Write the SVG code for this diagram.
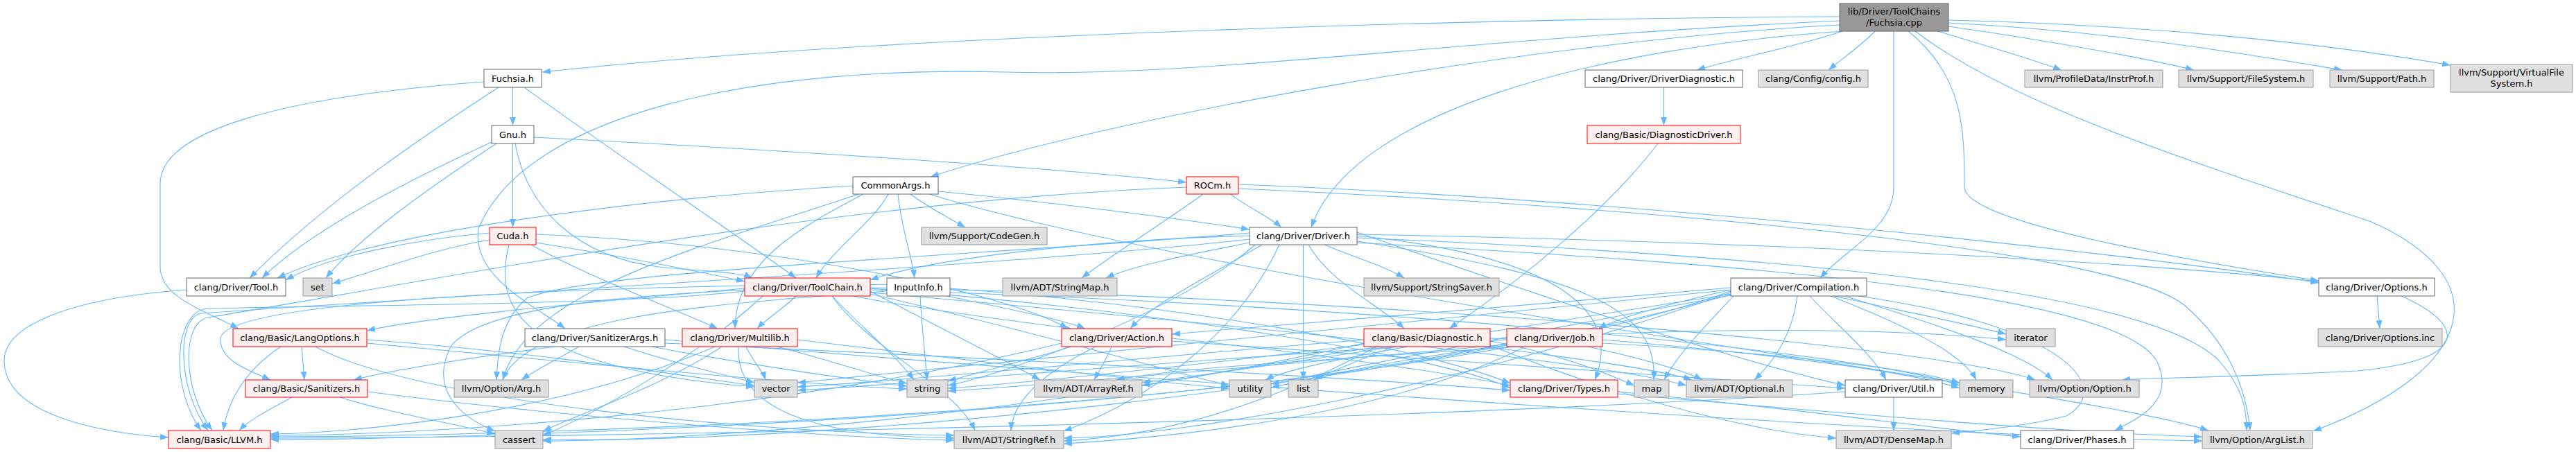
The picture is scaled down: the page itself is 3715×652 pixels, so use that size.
<svg xmlns="http://www.w3.org/2000/svg" width="3715" height="652" viewBox="0 0 3715 652">
<style>
.e{fill:none;stroke:#63b8ff;stroke-width:1.1;marker-end:url(#ah)}
.w{fill:#ffffff;stroke:#666666;stroke-width:1}
.r{fill:#fff0f0;stroke:#ff0000;stroke-width:1}
.g{fill:#e0e0e0;stroke:#999999;stroke-width:1}
.m{fill:#999999;stroke:#666666;stroke-width:1}
text{font-family:"DejaVu Sans","Liberation Sans",sans-serif;font-size:13px;text-anchor:middle;fill:#000000}
</style>
<defs>
<marker id="ah" viewBox="0 0 12 9" refX="12" refY="4.5" markerWidth="12" markerHeight="9" markerUnits="userSpaceOnUse" orient="auto"><path d="M0,0 L12,4.5 L0,9 z" fill="#63b8ff"/></marker>
</defs>
<rect width="3715" height="652" fill="#ffffff"/>
<g id="edges">
<path class="e" d="M2653,24 C2200,26 1300,48 782,104"/>
<path class="e" d="M2653,36 C2200,60 1600,170 1342,255"/>
<path class="e" d="M2653,30 C2100,55 1750,112 1450,104 C1100,95 760,160 690,330 C680,400 770,440 815,474"/>
<path class="e" d="M2658,45 C2300,70 1950,160 1891,328"/>
<path class="e" d="M2657,45 C2600,65 2500,85 2447,101"/>
<path class="e" d="M2704,45 C2685,65 2660,82 2637,101"/>
<path class="e" d="M2731,45 L2731,270 C2731,330 2660,360 2625,401"/>
<path class="e" d="M2795,45 C2860,65 2930,85 2973,101"/>
<path class="e" d="M2810,38 C2950,58 3100,85 3164,101"/>
<path class="e" d="M2810,33 C3050,45 3250,80 3378,101"/>
<path class="e" d="M2810,29 C3100,36 3350,62 3534,94"/>
<path class="e" d="M2752,45 C2833,110 2833,190 2833,270 C2833,320 3150,375 3344,405"/>
<path class="e" d="M2762,45 C2900,150 3150,230 3420,320 C3600,400 3580,530 3336,622"/>
<path class="e" d="M739.5,126 L739.5,181"/>
<path class="e" d="M698,118 C400,140 231,190 231,265 L231,385 C231,430 300,450 344,474"/>
<path class="e" d="M719,126 C620,190 470,290 360,401"/>
<path class="e" d="M756,126 C900,230 1050,330 1148,401"/>
<path class="e" d="M739.5,207 L739.5,328"/>
<path class="e" d="M770,198 C1100,215 1500,240 1711,263"/>
<path class="e" d="M709,205 C600,255 450,330 378,401"/>
<path class="e" d="M716,207 C620,270 520,340 470,401"/>
<path class="e" d="M743,207 C760,300 830,370 950,385 C1020,392 1065,392 1085,401"/>
<path class="e" d="M706,336 C600,345 470,370 412,404"/>
<path class="e" d="M706,346 C620,360 530,395 479,409"/>
<path class="e" d="M773,350 C900,370 1000,390 1074,406"/>
<path class="e" d="M766,353 C850,400 960,440 1035,474"/>
<path class="e" d="M734,353 C712,440 740,530 1088,558"/>
<path class="e" d="M773,338 C1100,350 1450,420 1540,474"/>
<path class="e" d="M1353,276 C1500,290 1700,315 1802,331"/>
<path class="e" d="M1295,280 C1300,330 1315,370 1319,401"/>
<path class="e" d="M1313,280 C1340,300 1370,315 1392,328"/>
<path class="e" d="M1230,268 C950,285 550,330 400,401"/>
<path class="e" d="M1281,280 C1260,320 1200,360 1177,401"/>
<path class="e" d="M1245,280 C1150,330 1060,380 1060,474"/>
<path class="e" d="M1238,280 C1000,360 760,420 725,548"/>
<path class="e" d="M1340,280 C1800,420 3000,560 3185,621"/>
<path class="e" d="M1775,280 C1800,300 1830,312 1848,328"/>
<path class="e" d="M1786,266 C2400,290 3100,370 3344,408"/>
<path class="e" d="M1735,280 C1680,320 1600,370 1560,401"/>
<path class="e" d="M1786,272 C2400,300 3050,360 3150,440 C3220,500 3240,570 3245,621"/>
<path class="e" d="M1711,270 C1200,290 650,400 300,458 C262,465 262,560 306,621"/>
<path class="e" d="M1887,353 C1920,410 1990,440 2025,474"/>
<path class="e" d="M1879.5,353 L1879.5,548"/>
<path class="e" d="M1910,353 C1950,370 2000,385 2025,401"/>
<path class="e" d="M1957,348 C2300,400 2390,450 2385,548"/>
<path class="e" d="M1802,340 C1600,345 1350,370 1255,404"/>
<path class="e" d="M1802,350 C1700,370 1630,385 1595,401"/>
<path class="e" d="M1820,353 C1740,400 1660,440 1630,474"/>
<path class="e" d="M1845,353 C1800,450 1700,560 1534,622"/>
<path class="e" d="M1810,353 C1700,450 1450,540 1367,556"/>
<path class="e" d="M1802,345 C1500,380 600,430 290,452 C255,458 255,560 300,621"/>
<path class="e" d="M1802,336 C1400,370 850,390 760,430 C725,460 718,500 716,548"/>
<path class="e" d="M1957,338 C2600,350 3100,380 3344,406"/>
<path class="e" d="M1957,343 C2600,370 3100,420 3200,520 C3235,560 3240,590 3240,621"/>
<path class="e" d="M1957,350 C2500,380 3050,420 3110,520 C3140,580 3080,605 3050,621"/>
<path class="e" d="M1957,340 C2250,370 2340,450 2300,548"/>
<path class="e" d="M1957,335 C2200,420 2500,520 2661,556"/>
<path class="e" d="M2496,420 C2000,600 700,630 390,630"/>
<path class="e" d="M2496,415 C2200,440 1850,470 1690,482"/>
<path class="e" d="M2496,418 C2400,440 2330,460 2305,474"/>
<path class="e" d="M2610,427 C2650,470 2700,510 2720,548"/>
<path class="e" d="M2496,424 C2200,470 1900,520 1647,552"/>
<path class="e" d="M2680,427 C2980,470 3050,560 2980,600 C2920,615 2860,620 2814,625"/>
<path class="e" d="M2592,427 C2585,480 2560,520 2530,548"/>
<path class="e" d="M2496,422 C2100,560 1700,630 1534,632"/>
<path class="e" d="M2660,427 C2800,470 2920,510 2960,548"/>
<path class="e" d="M2496,425 C2000,560 1200,640 783,634"/>
<path class="e" d="M2645,427 C2750,450 2850,470 2893,482"/>
<path class="e" d="M2500,427 C2460,470 2420,510 2400,548"/>
<path class="e" d="M2640,427 C2750,470 2830,510 2850,548"/>
<path class="e" d="M2496,426 C2200,480 1950,530 1833,554"/>
<path class="e" d="M2496,418 C1900,480 1300,540 1150,552"/>
<path class="e" d="M1074,420 C900,440 500,440 300,445 C250,448 245,560 290,621"/>
<path class="e" d="M1074,416 C800,440 600,460 529,477"/>
<path class="e" d="M1074,412 C700,420 330,440 318,487 C315,520 360,535 390,548"/>
<path class="e" d="M1230,427 C1350,450 1480,465 1545,474"/>
<path class="e" d="M1148,427 C1130,445 1105,460 1092,474"/>
<path class="e" d="M1255,416 C1700,450 2100,520 2178,560"/>
<path class="e" d="M1255,420 C1350,470 1450,520 1500,548"/>
<path class="e" d="M1200,427 C1250,500 1380,560 1406,621"/>
<path class="e" d="M1255,415 C2000,430 2800,500 2935,548"/>
<path class="e" d="M1255,422 C1800,470 2300,520 2432,556"/>
<path class="e" d="M1100,427 C1000,520 850,600 783,628"/>
<path class="e" d="M1255,418 C2000,440 2700,510 2826,556"/>
<path class="e" d="M1200,427 C1240,470 1290,510 1318,548"/>
<path class="e" d="M1255,424 C1500,480 1700,540 1773,556"/>
<path class="e" d="M1366,427 C1450,445 1530,460 1565,474"/>
<path class="e" d="M1370,416 C1700,440 2050,500 2178,553"/>
<path class="e" d="M1279,420 C1000,440 760,460 725,548"/>
<path class="e" d="M1279,410 C1000,420 700,430 650,500 C620,560 660,600 714,622"/>
<path class="e" d="M1327,427 C1330,480 1335,520 1337,548"/>
<path class="e" d="M800,500 C650,520 560,535 510,548"/>
<path class="e" d="M959,495 C1500,520 2000,548 2178,563"/>
<path class="e" d="M835,500 C800,520 770,535 752,548"/>
<path class="e" d="M959,490 C1800,560 2800,630 3176,636"/>
<path class="e" d="M940,500 C1100,530 1250,550 1308,557"/>
<path class="e" d="M900,500 C960,520 1040,540 1088,552"/>
<path class="e" d="M1031,500 C800,600 500,625 390,626"/>
<path class="e" d="M1065,500 C1060,600 1200,630 1376,632"/>
<path class="e" d="M1041,500 C950,560 850,590 783,622"/>
<path class="e" d="M1120,500 C1200,520 1270,545 1308,553"/>
<path class="e" d="M1150,490 C1400,520 1650,550 1773,560"/>
<path class="e" d="M1076,500 C1085,520 1100,535 1104,548"/>
<path class="e" d="M1531,495 C1100,600 600,628 390,628"/>
<path class="e" d="M1690,488 C1900,510 2100,540 2178,556"/>
<path class="e" d="M1690,492 C2100,520 2500,550 2661,560"/>
<path class="e" d="M1603,500 C1595,520 1585,535 1578,548"/>
<path class="e" d="M1580,500 C1500,540 1460,580 1458,621"/>
<path class="e" d="M1545,500 C1480,520 1400,540 1367,550"/>
<path class="e" d="M1990,500 C1850,520 1750,540 1647,556"/>
<path class="e" d="M2149,498 C2300,560 2500,620 2648,632"/>
<path class="e" d="M1985,500 C1800,600 1650,630 1534,636"/>
<path class="e" d="M1967,495 C1500,600 1000,636 783,636"/>
<path class="e" d="M2010,500 C1960,520 1920,535 1895,548"/>
<path class="e" d="M2149,492 C2250,510 2320,540 2357,556"/>
<path class="e" d="M2149,488 C2500,500 2750,530 2826,552"/>
<path class="e" d="M1967,497 C1700,530 1450,555 1367,560"/>
<path class="e" d="M2030,500 C1920,520 1850,535 1825,548"/>
<path class="e" d="M1967,490 C1600,520 1300,550 1150,558"/>
<path class="e" d="M2140,500 C2300,520 2400,535 2440,548"/>
<path class="e" d="M2173,495 C1700,600 700,634 390,634"/>
<path class="e" d="M2190,500 C1900,520 1700,530 1610,548"/>
<path class="e" d="M2290,500 C2380,520 2430,535 2455,548"/>
<path class="e" d="M2200,500 C2000,600 1700,630 1534,640"/>
<path class="e" d="M2311,482 C2600,470 2800,480 2893,490"/>
<path class="e" d="M2311,490 C2550,510 2750,535 2826,560"/>
<path class="e" d="M2173,497 C1800,530 1450,560 1367,564"/>
<path class="e" d="M2173,498 C2000,520 1900,545 1833,559"/>
<path class="e" d="M2173,490 C1700,520 1300,555 1150,563"/>
<path class="e" d="M2333,565 C2600,590 2800,620 2914,630"/>
<path class="e" d="M2333,568 C2700,600 3000,625 3176,630"/>
<path class="e" d="M2731,573 L2731,621"/>
<path class="e" d="M2661,565 C2000,610 800,632 390,632"/>
<path class="e" d="M405,500 C360,530 330,570 322,621"/>
<path class="e" d="M435,500 L439,548"/>
<path class="e" d="M455,500 C600,580 1100,625 1376,628"/>
<path class="e" d="M529,495 C800,520 1150,555 1308,561"/>
<path class="e" d="M529,490 C800,510 1000,545 1088,556"/>
<path class="e" d="M421,573 C390,590 360,605 345,621"/>
<path class="e" d="M530,565 C800,600 1200,632 1376,635"/>
<path class="e" d="M490,573 C560,595 640,608 714,626"/>
<path class="e" d="M269,418 C100,430 6,470 6,520 C6,600 150,625 243,631"/>
<path class="e" d="M3428,427 L3432,474"/>
<path class="e" d="M3463,427 C3560,470 3560,520 3400,535 C3200,545 3100,545 3060,548"/>
<path class="e" d="M2399.5,126 L2399.5,181"/>
<path class="e" d="M2391,207 C2320,300 2200,400 2090,474"/>
</g>
<g id="node_main"><rect class="m" x="2653" y="5" width="157" height="40"/><text x="2731.5" y="21">lib/Driver/ToolChains</text><text x="2731.5" y="37">/Fuchsia.cpp</text></g>
<g id="node_fuchsia_h"><rect class="w" x="698" y="100" width="83" height="26"/><text x="739.5" y="117.5">Fuchsia.h</text></g>
<g id="node_driverdiagnostic"><rect class="w" x="2286" y="101" width="227" height="25"/><text x="2399.5" y="118">clang/Driver/DriverDiagnostic.h</text></g>
<g id="node_config"><rect class="g" x="2536" y="101" width="158" height="25"/><text x="2615" y="118">clang/Config/config.h</text></g>
<g id="node_instrprof"><rect class="g" x="2920" y="101" width="199" height="25"/><text x="3019.5" y="118">llvm/ProfileData/InstrProf.h</text></g>
<g id="node_filesystem"><rect class="g" x="3142" y="101" width="194" height="25"/><text x="3239" y="118">llvm/Support/FileSystem.h</text></g>
<g id="node_path"><rect class="g" x="3360" y="101" width="150" height="25"/><text x="3435" y="118">llvm/Support/Path.h</text></g>
<g id="node_vfs"><rect class="g" x="3534" y="93" width="176" height="40"/><text x="3622" y="109">llvm/Support/VirtualFile</text><text x="3622" y="125">System.h</text></g>
<g id="node_gnu"><rect class="w" x="709" y="181" width="61" height="26"/><text x="739.5" y="198.5">Gnu.h</text></g>
<g id="node_diagnosticdriver"><rect class="r" x="2289" y="181" width="221" height="26"/><text x="2399.5" y="198.5">clang/Basic/DiagnosticDriver.h</text></g>
<g id="node_commonargs"><rect class="w" x="1230" y="255" width="123" height="25"/><text x="1291.5" y="272">CommonArgs.h</text></g>
<g id="node_rocm"><rect class="r" x="1711" y="255" width="75" height="25"/><text x="1748.5" y="272">ROCm.h</text></g>
<g id="node_cuda"><rect class="r" x="706" y="328" width="67" height="25"/><text x="739.5" y="345">Cuda.h</text></g>
<g id="node_codegen"><rect class="g" x="1329" y="328" width="181" height="25"/><text x="1419.5" y="345">llvm/Support/CodeGen.h</text></g>
<g id="node_driver"><rect class="w" x="1802" y="328" width="155" height="25"/><text x="1879.5" y="345">clang/Driver/Driver.h</text></g>
<g id="node_tool"><rect class="w" x="269" y="401" width="143" height="26"/><text x="340.5" y="418.5">clang/Driver/Tool.h</text></g>
<g id="node_set"><rect class="g" x="437" y="401" width="42" height="26"/><text x="458" y="418.5">set</text></g>
<g id="node_toolchain"><rect class="r" x="1074" y="401" width="181" height="26"/><text x="1164.5" y="418.5">clang/Driver/ToolChain.h</text></g>
<g id="node_inputinfo"><rect class="w" x="1279" y="401" width="91" height="26"/><text x="1324.5" y="418.5">InputInfo.h</text></g>
<g id="node_stringmap"><rect class="g" x="1446" y="401" width="165" height="26"/><text x="1528.5" y="418.5">llvm/ADT/StringMap.h</text></g>
<g id="node_stringsaver"><rect class="g" x="1967" y="401" width="195" height="26"/><text x="2064.5" y="418.5">llvm/Support/StringSaver.h</text></g>
<g id="node_compilation"><rect class="w" x="2496" y="401" width="196" height="26"/><text x="2594" y="418.5">clang/Driver/Compilation.h</text></g>
<g id="node_options_h"><rect class="w" x="3344" y="401" width="167" height="26"/><text x="3427.5" y="418.5">clang/Driver/Options.h</text></g>
<g id="node_langoptions"><rect class="r" x="336" y="474" width="193" height="26"/><text x="432.5" y="491.5">clang/Basic/LangOptions.h</text></g>
<g id="node_sanitizerargs"><rect class="w" x="757" y="474" width="202" height="26"/><text x="858" y="491.5">clang/Driver/SanitizerArgs.h</text></g>
<g id="node_multilib"><rect class="r" x="984" y="474" width="166" height="26"/><text x="1067" y="491.5">clang/Driver/Multilib.h</text></g>
<g id="node_action"><rect class="r" x="1531" y="474" width="159" height="26"/><text x="1610.5" y="491.5">clang/Driver/Action.h</text></g>
<g id="node_diagnostic"><rect class="r" x="1967" y="474" width="182" height="26"/><text x="2058" y="491.5">clang/Basic/Diagnostic.h</text></g>
<g id="node_job"><rect class="r" x="2173" y="474" width="138" height="26"/><text x="2242" y="491.5">clang/Driver/Job.h</text></g>
<g id="node_iterator"><rect class="g" x="2893" y="474" width="71" height="26"/><text x="2928.5" y="491.5">iterator</text></g>
<g id="node_options_inc"><rect class="g" x="3343" y="474" width="179" height="26"/><text x="3432.5" y="491.5">clang/Driver/Options.inc</text></g>
<g id="node_sanitizers"><rect class="r" x="354" y="548" width="176" height="25"/><text x="442" y="565">clang/Basic/Sanitizers.h</text></g>
<g id="node_arg"><rect class="g" x="655" y="548" width="136" height="25"/><text x="723" y="565">llvm/Option/Arg.h</text></g>
<g id="node_vector"><rect class="g" x="1088" y="548" width="62" height="25"/><text x="1119" y="565">vector</text></g>
<g id="node_string"><rect class="g" x="1308" y="548" width="59" height="25"/><text x="1337.5" y="565">string</text></g>
<g id="node_arrayref"><rect class="g" x="1492" y="548" width="155" height="25"/><text x="1569.5" y="565">llvm/ADT/ArrayRef.h</text></g>
<g id="node_utility"><rect class="g" x="1773" y="548" width="60" height="25"/><text x="1803" y="565">utility</text></g>
<g id="node_list"><rect class="g" x="1858" y="548" width="43" height="25"/><text x="1879.5" y="565">list</text></g>
<g id="node_types"><rect class="r" x="2178" y="548" width="155" height="25"/><text x="2255.5" y="565">clang/Driver/Types.h</text></g>
<g id="node_map"><rect class="g" x="2357" y="548" width="50" height="25"/><text x="2382" y="565">map</text></g>
<g id="node_optional"><rect class="g" x="2432" y="548" width="153" height="25"/><text x="2508.5" y="565">llvm/ADT/Optional.h</text></g>
<g id="node_util"><rect class="w" x="2661" y="548" width="140" height="25"/><text x="2731" y="565">clang/Driver/Util.h</text></g>
<g id="node_memory"><rect class="g" x="2826" y="548" width="77" height="25"/><text x="2864.5" y="565">memory</text></g>
<g id="node_option"><rect class="g" x="2927" y="548" width="158" height="25"/><text x="3006" y="565">llvm/Option/Option.h</text></g>
<g id="node_llvm"><rect class="r" x="243" y="621" width="147" height="26"/><text x="316.5" y="638.5">clang/Basic/LLVM.h</text></g>
<g id="node_cassert"><rect class="g" x="714" y="621" width="69" height="26"/><text x="748.5" y="638.5">cassert</text></g>
<g id="node_stringref"><rect class="g" x="1376" y="621" width="158" height="26"/><text x="1455" y="638.5">llvm/ADT/StringRef.h</text></g>
<g id="node_densemap"><rect class="g" x="2648" y="621" width="166" height="26"/><text x="2731" y="638.5">llvm/ADT/DenseMap.h</text></g>
<g id="node_phases"><rect class="w" x="2914" y="621" width="163" height="26"/><text x="2995.5" y="638.5">clang/Driver/Phases.h</text></g>
<g id="node_arglist"><rect class="g" x="3176" y="621" width="159" height="26"/><text x="3255.5" y="638.5">llvm/Option/ArgList.h</text></g>
</svg>
